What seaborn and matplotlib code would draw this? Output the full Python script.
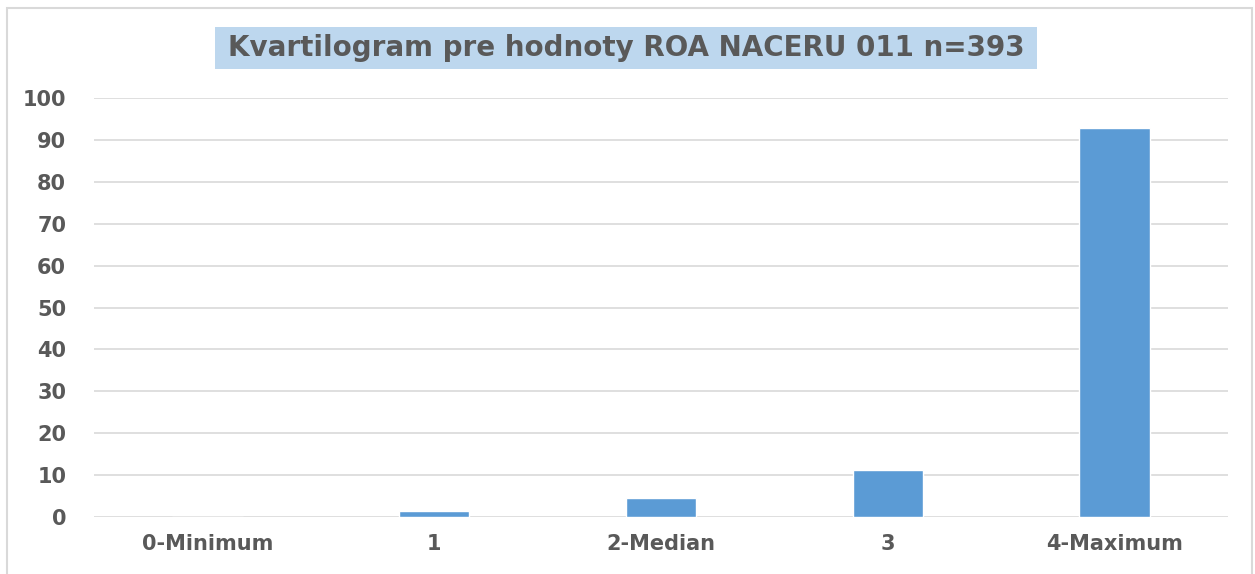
import matplotlib
matplotlib.use('Agg')
import matplotlib.pyplot as plt
from matplotlib.patches import Rectangle
import pandas as pd
import seaborn as sns

sns.set_style('white')
plt.rcParams['font.family'] = ['DejaVu Sans']

categories = ['0-Minimum', '1', '2-Median', '3', '4-Maximum']
values = [0.0, 1.4, 4.5, 11.3, 92.8]
yticks = list(range(0, 101, 10))
title = 'Kvartilogram pre hodnoty ROA NACERU 011 n=393'

TXT = '#595959'
W, H = 1255, 574

df = pd.DataFrame({'kat': categories, 'val': values})

fig = plt.figure(figsize=(W / 100, H / 100), dpi=100)
ax = fig.add_axes([94 / W, 1 - 517 / H, (1228 - 94) / W, (517 - 98) / H])

sns.barplot(data=df, x='kat', y='val', color='#5B9BD5', saturation=1,
            width=0.31, ax=ax, zorder=3)

ax.set_ylim(0, 100)
ax.set_xlim(-0.5, 4.5)
ax.set_yticks(yticks)
ax.yaxis.grid(True, color='#D9D9D9', linewidth=1.2, zorder=0)
ax.xaxis.grid(False)
for s in ax.spines.values():
    s.set_visible(False)
ax.tick_params(length=0)
ax.tick_params(axis='y', pad=20)
ax.tick_params(axis='x', pad=12)
ax.set_xlabel('')
ax.set_ylabel('')
for lbl in ax.get_xticklabels() + ax.get_yticklabels():
    lbl.set_fontsize(15)
    lbl.set_fontweight('bold')
    lbl.set_color(TXT)

# title box
fig.add_artist(Rectangle((215 / W, 1 - 69 / H), (1037 - 215) / W, 42 / H,
                         transform=fig.transFigure, facecolor='#BDD7EE',
                         edgecolor='none'))
fig.text((215 + 1037) / 2 / W, 1 - 48 / H, title, ha='center', va='center',
         fontsize=20, fontweight='bold', color=TXT)

# chart frame
fig.add_artist(Rectangle((7 / W, -0.05), (1252 - 7) / W, 1.05 - 8 / H,
                         transform=fig.transFigure, facecolor='none',
                         edgecolor='#D9D9D9', linewidth=1.5))

fig.savefig('out.png', dpi=100)
